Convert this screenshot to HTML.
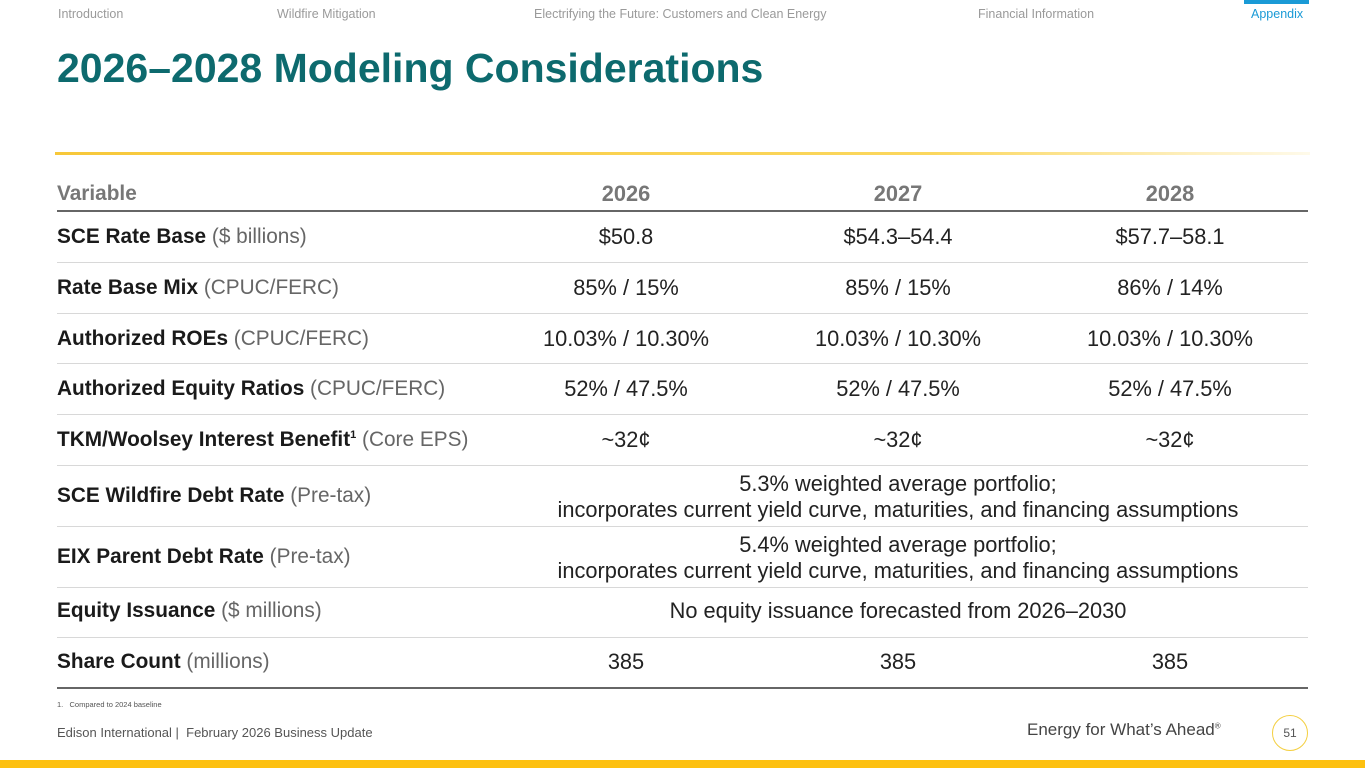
<!DOCTYPE html>
<html><head><meta charset="utf-8"><style>
body{margin:0;width:1365px;height:768px;position:relative;overflow:hidden;background:#fff;font-family:"Liberation Sans",sans-serif;color:#222}
.a{position:absolute;white-space:nowrap}
.nav{top:7px;font-size:12.5px;color:#9a9a9a}
.lab{left:57px;font-size:20.8px}
.lab b{font-weight:bold;color:#1a1a1a}
.lab span{color:#666}
.c{font-size:21.8px;transform:translateX(-50%);text-align:center}
.ln{position:absolute;left:57px;width:1251px;height:1px;background:#d8d8d8}
</style></head><body>
<div class="a nav" style="left:58px">Introduction</div>
<div class="a nav" style="left:277px">Wildfire Mitigation</div>
<div class="a nav" style="left:534px">Electrifying the Future: Customers and Clean Energy</div>
<div class="a nav" style="left:978px">Financial Information</div>
<div class="a" style="left:1244px;top:0;width:65px;height:4px;background:#1a9ad6"></div>
<div class="a nav" style="left:1251px;color:#1a9ad6">Appendix</div>
<div class="a" style="left:57px;top:45px;font-size:41px;font-weight:bold;color:#0d6a6e">2026–2028 Modeling Considerations</div>
<div class="a" style="left:55px;top:152px;width:1255px;height:3px;background:linear-gradient(90deg,#f7c83a,#fbd75e 70%,rgba(253,230,150,0.2))"></div>

<div class="a lab" style="top:182px;color:#777;font-weight:bold">Variable</div>
<div class="a c" style="left:626px;top:181px;font-weight:bold;color:#777">2026</div>
<div class="a c" style="left:898px;top:181px;font-weight:bold;color:#777">2027</div>
<div class="a c" style="left:1170px;top:181px;font-weight:bold;color:#777">2028</div>
<div class="ln" style="top:210px;height:2px;background:#666"></div>

<div>
<div class="a lab" style="top:225px"><b>SCE Rate Base</b> <span>($ billions)</span></div>
<div class="a c" style="left:626px;top:224px">$50.8</div><div class="a c" style="left:898px;top:224px">$54.3–54.4</div><div class="a c" style="left:1170px;top:224px">$57.7–58.1</div></div>
<div class="ln" style="top:262px"></div>
<div>
<div class="a lab" style="top:276px"><b>Rate Base Mix</b> <span>(CPUC/FERC)</span></div>
<div class="a c" style="left:626px;top:275px">85% / 15%</div><div class="a c" style="left:898px;top:275px">85% / 15%</div><div class="a c" style="left:1170px;top:275px">86% / 14%</div></div>
<div class="ln" style="top:313px"></div>
<div>
<div class="a lab" style="top:327px"><b>Authorized ROEs</b> <span>(CPUC/FERC)</span></div>
<div class="a c" style="left:626px;top:326px">10.03% / 10.30%</div><div class="a c" style="left:898px;top:326px">10.03% / 10.30%</div><div class="a c" style="left:1170px;top:326px">10.03% / 10.30%</div></div>
<div class="ln" style="top:363px"></div>
<div>
<div class="a lab" style="top:377px"><b>Authorized Equity Ratios</b> <span>(CPUC/FERC)</span></div>
<div class="a c" style="left:626px;top:376px">52% / 47.5%</div><div class="a c" style="left:898px;top:376px">52% / 47.5%</div><div class="a c" style="left:1170px;top:376px">52% / 47.5%</div></div>
<div class="ln" style="top:414px"></div>
<div>
<div class="a lab" style="top:428px"><b>TKM/Woolsey Interest Benefit<sup style="font-size:11px">1</sup></b> <span>(Core EPS)</span></div>
<div class="a c" style="left:626px;top:427px">~32¢</div><div class="a c" style="left:898px;top:427px">~32¢</div><div class="a c" style="left:1170px;top:427px">~32¢</div></div>
<div class="ln" style="top:465px"></div>
<div>
<div class="a lab" style="top:484px"><b>SCE Wildfire Debt Rate</b> <span>(Pre-tax)</span></div>
<div class="a c" style="left:898px;top:471px;line-height:26px">5.3% weighted average portfolio;<br>incorporates current yield curve, maturities, and financing assumptions</div></div>
<div class="ln" style="top:526px"></div>
<div>
<div class="a lab" style="top:545px"><b>EIX Parent Debt Rate</b> <span>(Pre-tax)</span></div>
<div class="a c" style="left:898px;top:532px;line-height:26px">5.4% weighted average portfolio;<br>incorporates current yield curve, maturities, and financing assumptions</div></div>
<div class="ln" style="top:587px"></div>
<div>
<div class="a lab" style="top:599px"><b>Equity Issuance</b> <span>($ millions)</span></div>
<div class="a c" style="left:898px;top:598px">No equity issuance forecasted from 2026–2030</div></div>
<div class="ln" style="top:637px"></div>
<div>
<div class="a lab" style="top:650px"><b>Share Count</b> <span>(millions)</span></div>
<div class="a c" style="left:626px;top:649px">385</div><div class="a c" style="left:898px;top:649px">385</div><div class="a c" style="left:1170px;top:649px">385</div></div>
<div class="ln" style="top:687px;height:2px;background:#666"></div>

<div class="a" style="left:57px;top:700px;font-size:7.5px;color:#555">1.&nbsp;&nbsp; Compared to 2024 baseline</div>
<div class="a" style="left:57px;top:725px;font-size:13px;color:#555">Edison International |&nbsp; February 2026 Business Update</div>
<div class="a" style="left:1027px;top:720px;font-size:17px;color:#444">Energy for What’s Ahead<sup style="font-size:8px">®</sup></div>
<div class="a" style="left:1272px;top:715px;width:34px;height:34px;border:1.5px solid #f4cf40;border-radius:50%;font-size:12px;color:#555;text-align:center;line-height:34px">51</div>
<div class="a" style="left:0;top:760px;width:1365px;height:8px;background:#fdc010"></div>
</body></html>
